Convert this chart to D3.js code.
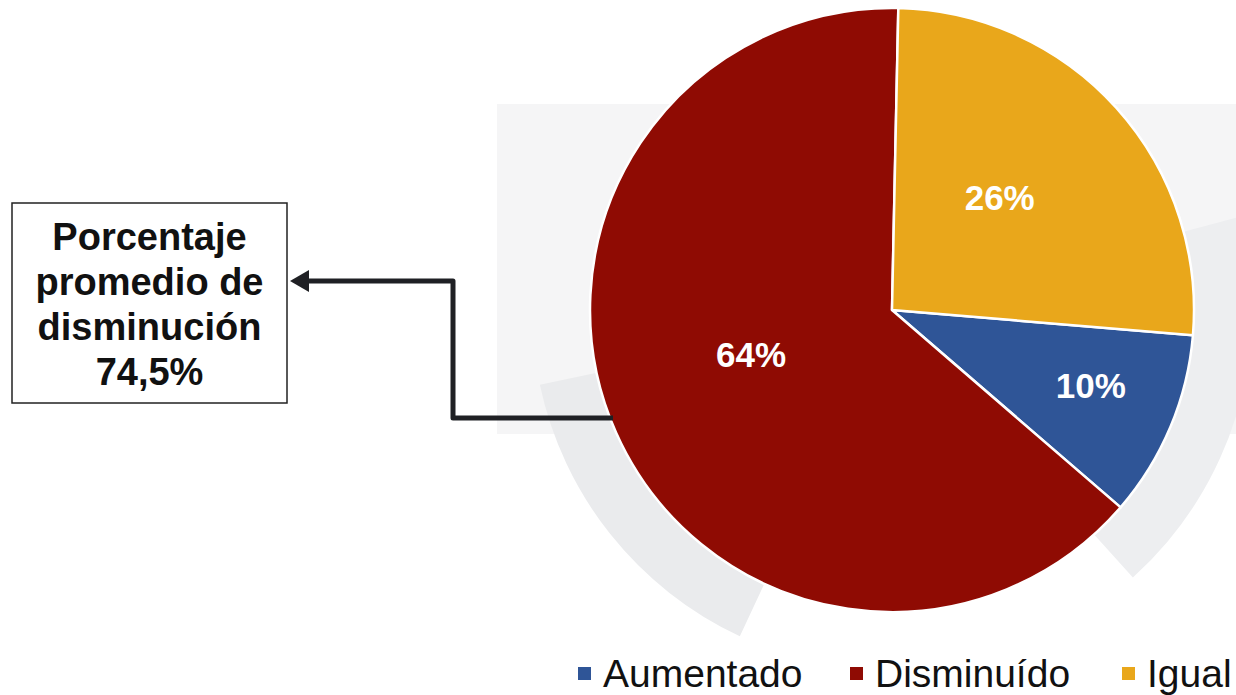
<!DOCTYPE html>
<html>
<head>
<meta charset="utf-8">
<script src="https://cdn.jsdelivr.net/npm/d3@7"></script>
<style>
  html, body { margin: 0; padding: 0; background: #ffffff; }
  svg { display: block; font-family: "Liberation Sans", Arial, sans-serif; }
</style>
</head>
<body>
<div id="chart"></div>
<script>
// Chart data
const categories = ['Aumentado', 'Disminuído', 'Igual'];
const values = [10, 64, 26];
const labels = ['10%', '64%', '26%'];
const colors = ['#2f5597', '#8f0b03', '#e9a71b'];
const noteLines = ['Porcentaje', 'promedio de', 'disminución', '74,5%'];

const width = 1236;
const height = 695;

const svg = d3.select('#chart')
  .append('svg')
  .attr('width', width)
  .attr('height', height);

// pie geometry
const cx = 892, cy = 310, radius = 302;
const offset = 1.2 * Math.PI / 180;
const deg = Math.PI / 180;

// faint backdrop behind the pie
const bg = svg.append('g').attr('class', 'backdrop');
bg.append('rect')
  .attr('x', 497).attr('y', 104)
  .attr('width', width - 497).attr('height', 330)
  .attr('fill', '#f5f5f6');

const ring = d3.arc().innerRadius(radius - 4).outerRadius(radius + 58);
bg.append('path')
  .attr('transform', `translate(${cx},${cy})`)
  .attr('d', ring({ startAngle: 75 * deg, endAngle: 138 * deg }))
  .attr('fill', '#edeef0');
bg.append('path')
  .attr('transform', `translate(${cx},${cy})`)
  .attr('d', ring({ startAngle: 205 * deg, endAngle: 258 * deg }))
  .attr('fill', '#eaebed');

// slices: Igual starts at 12 o'clock, then Aumentado, then Disminuído
const igualShare = values[2] / d3.sum(values);
const pie = d3.pie()
  .sort(null)
  .value(d => d)
  .startAngle(offset + igualShare * 2 * Math.PI)
  .endAngle(offset + igualShare * 2 * Math.PI + 2 * Math.PI);

const arcs = pie(values);

const arc = d3.arc()
  .innerRadius(0)
  .outerRadius(radius);

const g = svg.append('g')
  .attr('transform', `translate(${cx},${cy})`);

g.selectAll('path.slice')
  .data(arcs)
  .enter()
  .append('path')
  .attr('class', 'slice')
  .attr('d', arc)
  .attr('fill', (d, i) => colors[i])
  .attr('stroke', '#ffffff')
  .attr('stroke-width', 2.5)
  .attr('stroke-linejoin', 'round');

// label placement: share of radius plus a small nudge
const labelPos = [0.7, 0.5, 0.52];
const labelNudge = [[4, -7], [-3, -17], [-9, -8]];

g.selectAll('text.pct')
  .data(arcs)
  .enter()
  .append('text')
  .attr('class', 'pct')
  .attr('transform', (d, i) => {
    const r = radius * labelPos[i];
    const c = d3.arc().innerRadius(r).outerRadius(r).centroid(d);
    return `translate(${c[0] + labelNudge[i][0]},${c[1] + labelNudge[i][1]})`;
  })
  .attr('text-anchor', 'middle')
  .attr('dy', '0.36em')
  .attr('fill', '#ffffff')
  .style('font-size', '35px')
  .style('font-weight', 'bold')
  .text((d, i) => labels[i]);

// callout box
const box = svg.append('g');
box.append('rect')
  .attr('x', 12).attr('y', 203)
  .attr('width', 275).attr('height', 200)
  .attr('fill', '#ffffff')
  .attr('stroke', '#222222')
  .attr('stroke-width', 1.5);

box.selectAll('text')
  .data(noteLines)
  .enter()
  .append('text')
  .attr('x', 149.5)
  .attr('y', (d, i) => 250 + i * 45)
  .attr('text-anchor', 'middle')
  .attr('fill', '#111111')
  .style('font-size', '38px')
  .style('font-weight', 'bold')
  .text(d => d);

// elbow connector with arrow head
svg.append('path')
  .attr('d', 'M613,418 H453 V281 H305')
  .attr('fill', 'none')
  .attr('stroke', '#1f2024')
  .attr('stroke-width', 5)
  .attr('stroke-linejoin', 'round');

svg.append('path')
  .attr('d', 'M290,281 L309,270 L309,292 Z')
  .attr('fill', '#1f2024');

// legend
const legendX = [578, 850, 1122];
const legend = svg.append('g').attr('class', 'legend');

const item = legend.selectAll('g')
  .data(categories)
  .enter()
  .append('g')
  .attr('transform', (d, i) => `translate(${legendX[i]}, 0)`);

item.append('rect')
  .attr('x', 0).attr('y', 667)
  .attr('width', 13).attr('height', 13)
  .attr('fill', (d, i) => colors[i]);

item.append('text')
  .attr('x', 25)
  .attr('y', 687)
  .attr('fill', '#111111')
  .style('font-size', '39px')
  .text(d => d);
</script>
</body>
</html>
